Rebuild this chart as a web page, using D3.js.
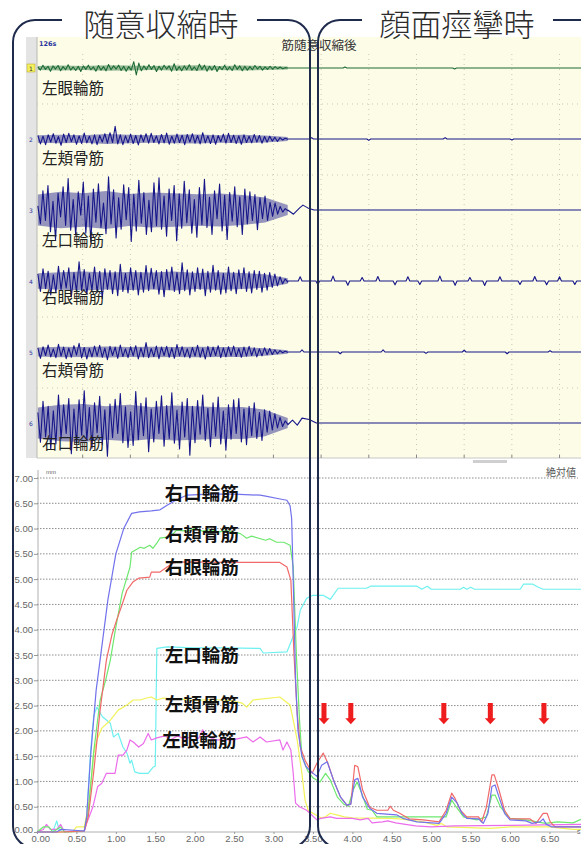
<!DOCTYPE html>
<html>
<head>
<meta charset="utf-8">
<script src="https://cdn.jsdelivr.net/npm/d3@7"></script>
<style>
  body { margin: 0; background: #fff; }
  svg { display: block; }
</style>
</head>
<body>
<svg id="chart" width="581" height="844"></svg>
<script>
// ---- data ----

// top panel: raw EMG, 6 channels
const channels = ['1', '2', '3', '4', '5', '6']
const channelNames = ['左眼輪筋', '左頬骨筋', '左口輪筋', '右眼輪筋', '右頬骨筋', '右口輪筋']

// samples during voluntary contraction (arbitrary µV units)
const ch1Active = [3,-6,8,-4,5,-9,6,-3,7,-8,4,-5,9,-6,3,-7,5,-10,6,-4,8,-5,3,-9,7,-6,4,-8,10,-5,6,-3,8,-7,5,-9,4,-6,18,-20,14,-8,6,-5,9,-4,7,-10,5,-6,8,-3,6,-9,12,-7,4,-8,6,-5,9,-6,3,-7,11,-4,8,-9,5,-6,7,-10,4,-5,8,-6,3,-7,9,-4,6,-8,5,-6,4,-5,7,-3,5,-6,3,-4,5,-3,4,-2,3,-2,1,0]
const ch2Active = [10,-14,8,-16,12,-9,15,-12,7,-18,14,-10,16,-8,12,-15,9,-13,17,-11,8,-14,12,-16,10,-9,15,-12,18,-10,36,-14,12,-16,9,-11,14,-13,10,-17,12,-8,15,-12,16,-10,9,-14,13,-11,17,-15,8,-12,14,-10,11,-16,13,-9,15,-12,10,-14,18,-11,9,-13,12,-15,10,-8,14,-12,16,-10,11,-13,9,-15,12,-10,8,-11,13,-9,10,-12,7,-9,8,-6,5,-7,4,-3,2,-1]
const ch3Active = [12,-40,55,-30,70,-62,25,-85,48,-20,66,-44,90,-58,30,-72,52,-15,80,-66,40,-92,60,-35,75,-50,20,-68,95,-40,58,-80,35,-55,72,-28,64,-90,45,-60,85,-38,50,-70,28,-62,78,-45,92,-55,40,-75,60,-30,70,-88,46,-52,82,-36,58,-66,30,-78,64,-42,88,-50,36,-70,55,-25,74,-60,42,-84,50,-32,66,-48,38,-70,60,-40,52,-30,44,-56,35,-25,40,-30,22,-18,20,-12,10,-6,4,-2]
const ch4Active = [20,-30,35,-22,28,-40,18,-33,42,-25,30,-20,38,-45,24,-30,55,-28,33,-38,22,-26,40,-32,28,-50,35,-24,30,-36,26,-42,48,-30,22,-34,38,-26,30,-40,25,-32,44,-28,36,-22,30,-38,27,-45,33,-25,40,-30,24,-36,52,-28,32,-40,26,-30,38,-24,34,-42,28,-32,45,-26,30,-38,22,-34,40,-28,25,-36,32,-22,38,-30,26,-34,30,-24,28,-32,22,-26,24,-18,20,-14,12,-8,6,-3]
const ch5Active = [12,-18,15,-10,20,-14,9,-16,22,-12,14,-19,11,-15,18,-9,25,-17,13,-20,10,-14,17,-12,19,-15,11,-22,16,-10,14,-18,20,-13,9,-16,15,-11,18,-20,12,-14,27,-16,10,-13,17,-19,14,-10,16,-15,12,-18,21,-11,15,-14,9,-17,13,-12,19,-15,11,-20,16,-13,14,-10,18,-16,12,-14,15,-11,17,-13,10,-15,14,-12,16,-10,12,-14,9,-11,12,-8,10,-7,6,-5,4,-2,2,-1]
const ch6Active = [30,-55,62,-40,48,-75,35,-60,80,-45,52,-30,70,-88,40,-58,66,-35,92,-50,44,-72,58,-28,76,-62,38,-95,54,-42,68,-30,84,-56,46,-70,32,-64,90,-48,56,-36,72,-82,40,-54,62,-30,78,-66,50,-44,86,-58,36,-74,60,-40,70,-92,48,-56,64,-32,80,-50,42,-68,58,-38,74,-60,34,-78,52,-46,66,-30,70,-54,40,-62,48,-36,58,-44,30,-50,38,-26,34,-20,26,-14,16,-10,6,-3]
const emgActive = [ch1Active, ch2Active, ch3Active, ch4Active, ch5Active, ch6Active]

// dense core of the interference pattern (half-height, same units), read along the burst
const ch1Core = [6,7,6,8,7,6,7,8,6,7,6,4]
const ch2Core = [11,12,11,14,12,11,12,13,11,12,10,6]
const ch3Core = [44,52,48,54,46,50,48,45,47,43,36,14]
const ch4Core = [22,25,27,24,26,24,27,23,25,23,19,8]
const ch5Core = [13,15,14,16,14,15,14,15,14,14,11,5]
const ch6Core = [44,52,54,48,52,46,50,48,45,46,38,14]
const emgCore = [ch1Core, ch2Core, ch3Core, ch4Core, ch5Core, ch6Core]

// after contraction: [time, value] (baseline wiggles) and small blips
const ch3Tail = [[5.3,0],[5.42,-12],[5.55,6],[5.62,14],[5.72,6],[5.85,0]]
const ch6Tail = [[5.3,-5],[5.4,8],[5.5,-6],[5.6,14],[5.75,10],[5.9,0]]
const emgTails = [[[5.3,0]], [[5.3,0]], ch3Tail, [[5.3,0]], [[5.3,0]], ch6Tail]
const ch1Blips = [[6.5,3],[8.8,-3]]
const ch2Blips = [[5.8,4],[7.0,-4],[8.6,4],[10.0,-3]]
const ch4Blips = [[5.56,12],[5.93,-10],[6.25,14],[6.56,-12],[6.86,10],[7.19,13],[7.55,-11],[7.82,12],[8.07,-10],[8.49,14],[8.81,-12],[9.12,10],[9.43,-13],[9.75,12],[10.17,-10],[10.48,13],[10.73,-11],[11.0,12],[11.32,-10]]
const ch5Blips = [[5.6,6],[6.4,-5],[7.3,6],[8.2,-4],[9.0,5],[9.9,-5],[10.8,4]]
const emgBlips = [ch1Blips, ch2Blips, [], ch4Blips, ch5Blips, []]

// bottom panel: displacement (mm) over time (s)
const rightOris = [[0,0],[0.25,0],[0.3,0.05],[0.6,0.02],[0.63,0.3],[0.68,1.5],[0.75,2.8],[0.8,3.4],[0.9,4.6],[1.0,5.5],[1.1,6.0],[1.2,6.3],[1.3,6.33],[1.45,6.35],[1.56,6.37],[1.65,6.46],[1.75,6.55],[1.81,6.6],[1.9,6.66],[2.2,6.68],[2.5,6.68],[2.83,6.66],[2.9,6.64],[3.1,6.58],[3.17,6.56],[3.21,6.45],[3.23,6.2],[3.25,4.98],[3.28,3.0],[3.31,2.0],[3.36,1.5],[3.41,1.3],[3.47,1.2],[3.55,1.1],[3.61,1.32],[3.68,1.39],[3.76,1.03],[3.85,0.69],[3.93,0.53],[3.98,0.55],[4.03,1.03],[4.07,1.06],[4.13,0.69],[4.22,0.47],[4.31,0.37],[4.56,0.34],[4.64,0.27],[4.82,0.2],[5.1,0.17],[5.19,0.37],[5.26,0.69],[5.33,0.57],[5.39,0.37],[5.45,0.27],[5.6,0.26],[5.66,0.17],[5.72,0.37],[5.77,0.9],[5.81,0.93],[5.86,0.69],[5.93,0.37],[6.0,0.24],[6.2,0.22],[6.28,0.17],[6.38,0.2],[6.42,0.26],[6.46,0.15],[6.53,0.1],[6.9,0.1]]
const rightZygo = [[0,0],[0.08,0.1],[0.15,0.1],[0.2,0],[0.3,0.1],[0.35,0],[0.6,0.02],[0.65,0.4],[0.72,1.6],[0.8,2.6],[0.87,3.0],[0.93,3.4],[1.0,4.05],[1.08,4.72],[1.18,5.24],[1.2,5.53],[1.31,5.63],[1.36,5.61],[1.43,5.67],[1.47,5.61],[1.52,5.71],[1.56,5.81],[1.65,5.83],[1.73,5.9],[1.77,5.97],[1.9,5.95],[2.0,6.0],[2.1,5.95],[2.2,5.98],[2.3,5.93],[2.4,5.96],[2.58,5.9],[2.66,5.81],[2.72,5.85],[2.9,5.77],[2.95,5.8],[3.04,5.73],[3.13,5.73],[3.21,5.67],[3.25,5.24],[3.29,3.5],[3.33,2.2],[3.36,1.49],[3.43,1.22],[3.5,1.07],[3.59,0.99],[3.66,1.16],[3.72,1.03],[3.81,0.69],[3.89,0.55],[3.95,0.51],[4.01,0.83],[4.06,0.99],[4.12,0.76],[4.19,0.45],[4.25,0.43],[4.31,0.3],[5.1,0.3],[5.19,0.3],[5.26,0.63],[5.32,0.49],[5.41,0.3],[5.58,0.24],[5.7,0.3],[5.77,0.73],[5.81,0.73],[5.88,0.49],[6.0,0.27],[6.2,0.24],[6.45,0.17],[6.6,0.2],[6.8,0.18],[6.9,0.25]]
const rightOculi = [[0,0],[0.3,0],[0.6,0.02],[0.65,0.3],[0.72,1.2],[0.8,2.4],[0.88,3.4],[0.95,3.9],[1.01,4.19],[1.08,4.5],[1.14,4.78],[1.22,4.95],[1.29,5.02],[1.43,5.04],[1.45,5.14],[1.56,5.14],[1.65,5.24],[1.73,5.32],[1.8,5.34],[2.5,5.33],[3.08,5.33],[3.17,5.24],[3.22,4.98],[3.26,3.5],[3.3,2.35],[3.34,1.68],[3.4,1.42],[3.49,1.16],[3.55,1.36],[3.63,1.56],[3.69,1.36],[3.76,1.03],[3.85,0.69],[3.93,0.53],[3.98,0.55],[4.03,1.32],[4.07,1.29],[4.13,0.83],[4.22,0.49],[4.31,0.43],[4.45,0.43],[4.48,0.51],[4.52,0.43],[4.6,0.37],[4.72,0.26],[4.9,0.24],[5.1,0.2],[5.19,0.43],[5.26,0.77],[5.3,0.67],[5.37,0.43],[5.45,0.3],[5.6,0.3],[5.64,0.2],[5.7,0.49],[5.77,1.13],[5.8,1.13],[5.86,0.83],[5.93,0.43],[6.0,0.26],[6.25,0.26],[6.33,0.17],[6.42,0.37],[6.47,0.37],[6.51,0.2],[6.57,0.1],[6.9,0.1]]
const leftOris = [[0,0],[0.2,0],[0.25,0.22],[0.28,0.05],[0.32,0],[0.6,0.02],[0.63,0.3],[0.68,1.6],[0.72,2.3],[0.76,2.47],[0.83,2.28],[0.93,2.15],[0.97,1.88],[1.03,1.95],[1.09,1.68],[1.14,1.56],[1.18,1.36],[1.2,1.42],[1.24,1.19],[1.3,1.16],[1.41,1.16],[1.47,1.28],[1.5,1.3],[1.52,3.63],[1.65,3.66],[2.0,3.64],[2.4,3.64],[2.83,3.63],[2.87,3.54],[3.17,3.56],[3.23,3.79],[3.3,4.06],[3.34,4.39],[3.42,4.62],[3.5,4.68],[3.63,4.68],[3.72,4.6],[3.82,4.82],[4.18,4.82],[4.23,4.86],[4.82,4.86],[4.88,4.8],[4.95,4.86],[5.0,4.8],[5.37,4.8],[5.41,4.84],[5.45,4.8],[5.5,4.84],[5.55,4.8],[6.13,4.8],[6.17,4.9],[6.29,4.9],[6.36,4.84],[6.42,4.8],[6.9,4.8]]
const leftZygo = [[0,0],[0.45,0],[0.5,0.1],[0.6,0.1],[0.65,0.5],[0.7,1.2],[0.72,1.56],[0.76,1.82],[0.82,2.05],[0.93,2.21],[1.03,2.41],[1.14,2.51],[1.22,2.61],[1.31,2.61],[1.39,2.65],[1.45,2.67],[1.52,2.61],[1.6,2.65],[1.8,2.63],[2.0,2.6],[2.2,2.62],[2.45,2.6],[2.6,2.55],[2.66,2.47],[2.74,2.61],[3.08,2.67],[3.21,2.51],[3.25,2.21],[3.3,1.82],[3.36,1.16],[3.4,0.63],[3.44,0.43],[3.5,0.37],[3.6,0.28],[3.66,0.3],[3.72,0.37],[3.8,0.34],[3.9,0.3],[4.0,0.28],[4.48,0.27],[4.6,0.26],[4.9,0.2],[5.07,0.13],[5.13,0.17],[5.2,0.1],[5.75,0.07],[6.0,0.1],[6.5,0.1],[6.8,0.05],[6.9,0.05]]
const leftOculi = [[0,0],[0.08,0.05],[0.12,0.15],[0.17,0.05],[0.25,0.05],[0.3,0.15],[0.35,0],[0.6,0.02],[0.63,0.17],[0.71,0.5],[0.77,0.9],[0.82,0.96],[0.88,1.16],[0.99,1.16],[1.03,1.52],[1.09,1.52],[1.14,1.62],[1.18,1.82],[1.22,1.78],[1.29,1.68],[1.35,1.75],[1.41,1.95],[1.45,1.82],[1.52,1.86],[1.57,1.88],[1.63,1.9],[1.69,1.82],[1.78,1.9],[1.88,1.84],[1.98,1.9],[2.05,1.85],[2.1,2.02],[2.15,1.9],[2.27,1.82],[2.48,1.82],[2.66,1.88],[2.74,1.78],[2.83,1.88],[2.91,1.78],[3.08,1.82],[3.12,1.62],[3.17,1.78],[3.22,1.62],[3.25,1.16],[3.28,0.57],[3.33,0.5],[3.42,0.43],[3.55,0.24],[3.6,0.27],[3.72,0.3],[3.8,0.27],[4.0,0.27],[4.1,0.24],[4.2,0.27],[4.25,0.18],[4.38,0.2],[4.45,0.22],[4.55,0.18],[4.8,0.12],[5.0,0.1],[5.3,0.12],[6.0,0.13],[6.9,0.15]]

const seriesNames = ['左口輪筋', '左頬骨筋', '左眼輪筋', '右頬骨筋', '右眼輪筋', '右口輪筋']
const seriesData = [leftOris, leftZygo, leftOculi, rightZygo, rightOculi, rightOris]

// label anchors [time, mm] and spasm arrows (time)
const labelNames = ['右口輪筋', '右頬骨筋', '右眼輪筋', '左口輪筋', '左頬骨筋', '左眼輪筋']
const labelAt = [[1.62, 6.57], [1.62, 5.75], [1.62, 5.1], [1.62, 3.36], [1.62, 2.39], [1.59, 1.68]]
const spasmTimes = [3.64, 3.98, 5.16, 5.75, 6.43]

const yTicks = d3.range(0, 7.01, 0.5)
const xTicks = d3.range(0, 6.51, 0.5)

// ---- styles ----
const seriesColors = {
  '左口輪筋': '#6ff0f0', '左頬骨筋': '#f2f25a', '左眼輪筋': '#ec6cec',
  '右頬骨筋': '#6ee86e', '右眼輪筋': '#f06a6a', '右口輪筋': '#7272ec'
}
const sansJP = '"Noto Sans CJK JP", "Noto Sans CJK SC", sans-serif'

const svg = d3.select('#chart')

// ---- top panel: EMG ----
const panelTop = 37, panelBottom = 458
const emgX = d3.scaleLinear().domain([0, 11.45]).range([35, 581])
const chY = d3.scalePoint().domain(channels).range([68, 423])
const ampY = d3.scaleLinear().domain([-100, 100]).range([35, -35])

svg.append('rect').attr('x', 26).attr('y', panelTop).attr('width', 11)
  .attr('height', panelBottom - panelTop).attr('fill', '#e4e4e4')
svg.append('rect').attr('x', 37).attr('y', panelTop).attr('width', 544)
  .attr('height', panelBottom - panelTop).attr('fill', '#fcfce7')
svg.append('line').attr('x1', 37).attr('x2', 37).attr('y1', panelTop).attr('y2', panelBottom)
  .attr('stroke', '#b8b8b8')
svg.append('line').attr('x1', 37).attr('x2', 581).attr('y1', panelBottom).attr('y2', panelBottom)
  .attr('stroke', '#c8c8c8')

// panel grid
const emgGrid = svg.append('g')
emgGrid.selectAll('line.v').data(d3.range(1, 12)).join('line')
  .attr('class', 'v')
  .attr('x1', d => emgX(d)).attr('x2', d => emgX(d))
  .attr('y1', 54).attr('y2', panelBottom)
  .attr('stroke', '#c9c9b8').attr('stroke-dasharray', '1,4')
emgGrid.selectAll('line.tk').data(d3.range(1, 12)).join('line')
  .attr('class', 'tk')
  .attr('x1', d => emgX(d)).attr('x2', d => emgX(d))
  .attr('y1', panelBottom - 3).attr('y2', panelBottom)
  .attr('stroke', '#888')
emgGrid.selectAll('line.h').data(channels.slice(1)).join('line')
  .attr('class', 'h')
  .attr('x1', 37).attr('x2', 581)
  .attr('y1', d => chY(d) - 35).attr('y2', d => chY(d) - 35)
  .attr('stroke', '#c9c9b8').attr('stroke-dasharray', '1,4')

svg.append('text').attr('x', 39).attr('y', 46).text('126s')
  .attr('font-family', 'DejaVu Sans').attr('font-weight', 'bold')
  .attr('font-size', 6.5).attr('fill', '#2a35a0')
svg.append('text').attr('x', 319).attr('y', 50).text('筋随意収縮後')
  .attr('text-anchor', 'middle').attr('font-family', sansJP)
  .attr('font-size', 12.5).attr('fill', '#333')

// channel numbers
svg.append('rect').attr('x', 27).attr('y', chY('1') - 4).attr('width', 8).attr('height', 8)
  .attr('fill', '#f4f060').attr('stroke', '#b0a020').attr('stroke-width', 0.5)
svg.selectAll('text.chn').data(channels).join('text')
  .attr('class', 'chn')
  .attr('x', 31).attr('y', d => chY(d) + 2.5)
  .attr('text-anchor', 'middle').attr('font-family', 'DejaVu Sans')
  .attr('font-size', 6).attr('fill', (d, i) => i === 0 ? '#333' : '#2a35a0')
  .text(d => d)

const emgClip = svg.append('clipPath').attr('id', 'emgclip')
emgClip.append('rect').attr('x', 37).attr('y', panelTop).attr('width', 544)
  .attr('height', panelBottom - panelTop)

const emgLayer = svg.append('g').attr('clip-path', 'url(#emgclip)')
channels.forEach((ch, i) => {
  const ink = i === 0 ? '#1d6b34' : '#16168a'
  const base = chY(ch)

  // dense core band, semi-transparent
  const core = emgCore[i]
  const coreT = d3.scaleLinear().domain([0, core.length - 1]).range([0.06, 5.3])
  const band = d3.area()
    .x((d, j) => emgX(coreT(j)))
    .y0(d => base + ampY(-d))
    .y1(d => base + ampY(d))
  emgLayer.append('path')
    .datum(core)
    .attr('d', band)
    .attr('fill', ink)
    .attr('opacity', 0.45)

  // sampled trace
  const active = emgActive[i]
  const sampleT = d3.scaleLinear().domain([0, active.length - 1]).range([0.06, 5.3])
  let pts = active.map((v, j) => [sampleT(j), v])
  pts = pts.concat(emgTails[i])
  emgBlips[i].forEach(([t, v]) => {
    pts.push([t - 0.04, 0], [t, v], [t + 0.04, 0])
  })
  pts.push([11.45, 0])
  const line = d3.line()
    .x(d => emgX(d[0]))
    .y(d => base + ampY(d[1]))
  emgLayer.append('path')
    .datum(pts)
    .attr('d', line)
    .attr('fill', 'none')
    .attr('stroke', ink)
    .attr('stroke-width', 1.1)
    .attr('stroke-linejoin', 'round')
})

svg.selectAll('text.chname').data(channelNames).join('text')
  .attr('class', 'chname')
  .attr('x', 42)
  .attr('y', (d, i) => chY(channels[i]) + [26, 25, 36, 22, 24, 26][i])
  .attr('font-family', sansJP).attr('font-size', 15.5)
  .attr('fill', '#222')
  .text(d => d)

// scrollbar stub
svg.append('rect').attr('x', 473).attr('y', 460).attr('width', 34).attr('height', 3)
  .attr('fill', '#cfcfcf')

// ---- bottom panel: displacement ----
const x = d3.scaleLinear().domain([0, 6.9]).range([37, 581])
const y = d3.scaleLinear().domain([0, 7]).range([832, 478])

const grid = svg.append('g')
grid.selectAll('line').data(yTicks.filter(d => d > 0)).join('line')
  .attr('x1', x(0)).attr('x2', 578)
  .attr('y1', d => y(d)).attr('y2', d => y(d))
  .attr('stroke', '#8c8c8c').attr('stroke-dasharray', '1.5,1.5')

const yAxis = svg.append('g')
  .attr('transform', `translate(${x(0) + 1},0)`)
  .call(d3.axisLeft(y).tickValues(yTicks).tickFormat(d3.format('.2f')).tickSize(4).tickPadding(1))
yAxis.select('.domain').attr('stroke', '#b0b0b0').attr('d', `M0,470V${y(0)}`)
yAxis.selectAll('.tick line').attr('stroke', '#999')
yAxis.selectAll('text').attr('font-family', 'Liberation Sans').attr('font-size', 9.5).attr('fill', '#666')
yAxis.selectAll('.tick').filter(d => d === 0).select('text').attr('dy', '0.1em')

const xAxis = svg.append('g')
  .attr('transform', `translate(0,${y(0)})`)
  .call(d3.axisBottom(x).tickValues(xTicks).tickFormat(d3.format('.2f')).tickSize(2).tickPadding(1))
xAxis.select('.domain').attr('stroke', '#b0b0b0').attr('d', `M${x(0)},0H578`)
xAxis.selectAll('.tick line').attr('stroke', '#999')
xAxis.selectAll('text').attr('font-family', 'Liberation Sans').attr('font-size', 9.5).attr('fill', '#666')
xAxis.selectAll('.tick').filter(d => d === 0).select('text').attr('dx', '0.35em')

svg.append('text').attr('x', 46).attr('y', 474).text('mm')
  .attr('font-family', 'Liberation Sans').attr('font-size', 6).attr('fill', '#666')
svg.append('text').attr('x', 576).attr('y', 476).text('絶対値')
  .attr('text-anchor', 'end').attr('font-family', sansJP).attr('font-size', 10).attr('fill', '#555')
svg.append('text').attr('x', 577).attr('y', 834).text('s')
  .attr('font-family', 'Liberation Sans').attr('font-size', 7).attr('fill', '#666')

const trace = d3.line().x(d => x(d[0])).y(d => y(d[1]))
svg.append('g').selectAll('path').data(seriesData).join('path')
  .attr('d', trace)
  .attr('fill', 'none')
  .attr('stroke', (d, i) => seriesColors[seriesNames[i]])
  .attr('stroke-width', 1.2)
  .attr('stroke-linejoin', 'round')

svg.append('g').selectAll('text').data(labelNames).join('text')
  .attr('x', (d, i) => x(labelAt[i][0]))
  .attr('y', (d, i) => y(labelAt[i][1]))
  .attr('font-family', sansJP).attr('font-weight', 'bold')
  .attr('font-size', 18.5).attr('fill', '#111')
  .text(d => d)

// red arrows marking spasms
const arrowTop = y(2.55), arrowBottom = y(2.13)
svg.append('g').selectAll('path').data(spasmTimes).join('path')
  .attr('d', t => {
    const cx = x(t)
    const neck = arrowBottom - 6
    return `M${cx - 2.5},${arrowTop}H${cx + 2.5}V${neck}H${cx + 5.5}L${cx},${arrowBottom}L${cx - 5.5},${neck}H${cx - 2.5}Z`
  })
  .attr('fill', '#ee1c1c')

// ---- overlay brackets ----
const bracket = svg.append('g').attr('fill', 'none').attr('stroke', '#1f2b4d').attr('stroke-width', 2)
bracket.append('path')
  .attr('d', 'M62,20H35A22,22 0 0 0 13,42V826A22,22 0 0 0 35,848H288A22,22 0 0 0 310,826V42A22,22 0 0 0 288,20H257')
bracket.append('path')
  .attr('d', 'M362,20H340A22,22 0 0 0 318,42V826A22,22 0 0 0 340,848H600')
bracket.append('path').attr('d', 'M553,20H590')

svg.append('text').attr('x', 161).attr('y', 36).text('随意収縮時')
  .attr('text-anchor', 'middle').attr('font-family', sansJP).attr('font-weight', 300)
  .attr('font-size', 31).attr('fill', '#2b2b2b')
svg.append('text').attr('x', 457).attr('y', 36).text('顔面痙攣時')
  .attr('text-anchor', 'middle').attr('font-family', sansJP).attr('font-weight', 300)
  .attr('font-size', 31).attr('fill', '#2b2b2b')
</script>
</body>
</html>
